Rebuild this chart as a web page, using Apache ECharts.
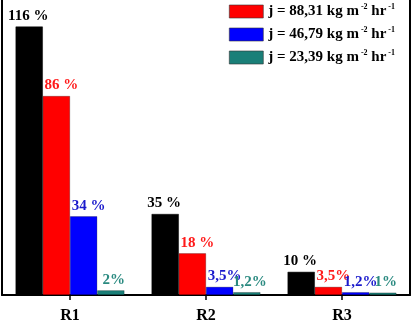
<!DOCTYPE html>
<html>
<head>
<meta charset="utf-8">
<script src="https://cdn.jsdelivr.net/npm/echarts@6/dist/echarts.min.js"></script>
<style>
  html, body { margin: 0; padding: 0; background: #fff; }
  #chart { width: 411px; height: 324px; }
</style>
</head>
<body>
<div id="chart"></div>
<script>
const categories = ['R1', 'R2', 'R3']

const seriesNames = ['ref', 'j88', 'j46', 'j23']
const blackValues = [116, 35, 10]
const redValues = [86, 18, 3.5]
const blueValues = [34, 3.5, 1.2]
const tealValues = [2, 1.2, 1]

// texts printed above each bar
const blackLabels = ['116 %', '35 %', '10 %']
const redLabels = ['86 %', '18 %', '3,5%']
const blueLabels = ['34 %', '3,5%', '1,2%']
const tealLabels = ['2%', '1,2%', '1%']

const legendText = {
  j88: ['j = 88,31 kg m', '-2', ' hr', '-1'],
  j46: ['j = 46,79 kg m', '-2', ' hr', '-1'],
  j23: ['j = 23,39 kg m', '-2', ' hr', '-1']
}

const FONT = '"Liberation Serif", "Times New Roman", serif'

const chart = echarts.init(document.getElementById('chart'))

function bars(name, values, labels, color, labelColor, dx) {
  return {
    name,
    type: 'bar',
    data: values,
    barGap: '0%',
    barCategoryGap: '20%',
    itemStyle: { color, borderColor: name === 'ref' ? '#000' : 'rgba(0,0,0,0.5)', borderWidth: 0.5 },
    label: {
      show: true,
      position: 'top',
      distance: 3,
      offset: [dx, 0],
      color: labelColor,
      fontFamily: FONT,
      fontWeight: 'bold',
      fontSize: 15,
      formatter: p => labels[p.dataIndex]
    }
  }
}

const option = {
  animation: false,
  grid: { left: 2, right: 1, top: 0, bottom: 26 },
  legend: {
    data: ['j88', 'j46', 'j23'],
    orient: 'vertical',
    left: 224,
    top: -2,
    icon: 'rect',
    itemWidth: 34,
    itemHeight: 13,
    itemGap: 7,
    itemStyle: { borderColor: '#333', borderWidth: 0.6 },
    textStyle: {
      fontFamily: FONT,
      fontWeight: 'bold',
      fontSize: 15,
      color: '#000',
      rich: {
        t: { fontFamily: FONT, fontWeight: 'bold', fontSize: 15, color: '#000' },
        s: { fontFamily: FONT, fontWeight: 'bold', fontSize: 8, color: '#000', verticalAlign: 'top', padding: [0, 0, 9, 2] }
      }
    },
    formatter: name => {
      const p = legendText[name]
      return `{t|${p[0]}}{s|${p[1]}}{t|${p[2]}}{s|${p[3]}}`
    }
  },
  xAxis: {
    type: 'category',
    data: categories,
    axisLine: { show: true, lineStyle: { color: '#000', width: 2 } },
    axisTick: { show: true, alignWithLabel: true, length: 5, lineStyle: { color: '#000', width: 1.5 } },
    axisLabel: { color: '#000', fontFamily: FONT, fontWeight: 'bold', fontSize: 16, margin: 13 }
  },
  yAxis: [
    {
      type: 'value',
      min: 0,
      max: 127.5,
      axisLine: { show: true, lineStyle: { color: '#000', width: 2 } },
      axisTick: { show: false },
      axisLabel: { show: false },
      splitLine: { show: false }
    },
    {
      type: 'value',
      position: 'right',
      min: 0,
      max: 127.5,
      axisLine: { show: true, lineStyle: { color: '#000', width: 2 } },
      axisTick: { show: false },
      axisLabel: { show: false },
      splitLine: { show: false }
    }
  ],
  series: [
    bars(seriesNames[0], blackValues, blackLabels, '#000000', '#000000', -1),
    bars(seriesNames[1], redValues, redLabels, '#ff0000', '#ff1a1a', 5),
    bars(seriesNames[2], blueValues, blueLabels, '#0000ff', '#1a1acc', 5),
    bars(seriesNames[3], tealValues, tealLabels, '#1a7f78', '#2a8a80', 3)
  ]
}

chart.setOption(option)
</script>
</body>
</html>
